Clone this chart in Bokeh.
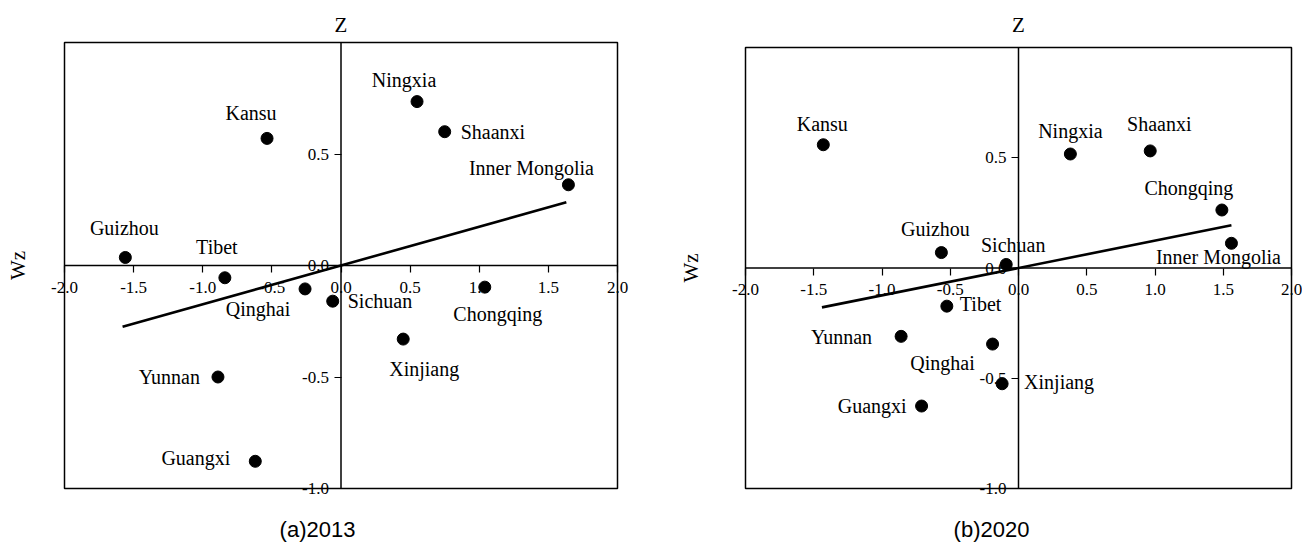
import math
from bokeh.plotting import figure
from bokeh.models import LinearAxis, FixedTicker, ColumnDataSource, Range1d, Label, PrintfTickFormatter
from bokeh.layouts import row
from bokeh.embed import file_html
from bokeh.resources import INLINE
from bokeh.core.properties import value

# ---------------- data ----------------
provinces_2013 = ["Guizhou", "Tibet", "Kansu", "Qinghai", "Sichuan", "Ningxia", "Shaanxi",
                  "Inner Mongolia", "Chongqing", "Xinjiang", "Yunnan", "Guangxi"]
z_2013 = [-1.56, -0.84, -0.535, -0.26, -0.06, 0.55, 0.75, 1.645, 1.04, 0.45, -0.89, -0.62]
wz_2013 = [0.036, -0.055, 0.57, -0.105, -0.16, 0.735, 0.60, 0.362, -0.097, -0.33, -0.50, -0.878]

provinces_2020 = ["Kansu", "Ningxia", "Shaanxi", "Chongqing", "Inner Mongolia", "Guizhou", "Sichuan",
                  "Tibet", "Yunnan", "Qinghai", "Xinjiang", "Guangxi"]
z_2020 = [-1.43, 0.38, 0.965, 1.49, 1.56, -0.565, -0.09, -0.525, -0.86, -0.19, -0.12, -0.71]
wz_2020 = [0.559, 0.517, 0.531, 0.263, 0.112, 0.07, 0.016, -0.173, -0.31, -0.345, -0.525, -0.626]

slope_2013 = 0.174
slope_2020 = 0.124
fit_x_2013 = [-1.58, 1.63]
fit_x_2020 = [-1.44, 1.56]

x_limits = [-2.0, 2.0]
y_limits = [-1.0, 1.0]
x_ticks = [-2.0, -1.5, -1.0, -0.5, 0.0, 0.5, 1.0, 1.5, 2.0]
y_ticks = [-1.0, -0.5, 0.0, 0.5]
x_title = "Z"
y_title = "Wz"
captions = ["(a)2013", "(b)2020"]

# ---------------- label placement (screen px: dx, dy(down), align) ----------------
label_pos_2013 = {
    "Guizhou": (-1, -29, "center"), "Tibet": (-8, -31, "center"), "Kansu": (-16, -25, "center"),
    "Qinghai": (-47, 20, "center"), "Sichuan": (15, 0, "left"), "Ningxia": (-13, -22, "center"),
    "Shaanxi": (16, 0, "left"), "Inner Mongolia": (-37, -17, "center"), "Chongqing": (13, 27, "center"),
    "Xinjiang": (21, 30, "center"), "Yunnan": (-18, 0, "right"), "Guangxi": (-25, -3, "right"),
}
label_pos_2020 = {
    "Kansu": (-1, -21, "center"), "Ningxia": (0, -23, "center"), "Shaanxi": (9, -27, "center"),
    "Chongqing": (-33, -22, "center"), "Inner Mongolia": (-13, 14, "center"), "Guizhou": (-6, -24, "center"),
    "Sichuan": (7, -19, "center"), "Tibet": (13, -2, "left"), "Yunnan": (-29, 1, "right"),
    "Qinghai": (-50, 19, "center"), "Xinjiang": (22, -2, "left"), "Guangxi": (-15, 0, "right"),
}

SERIF = "Liberation Serif"


def make_panel(names, zs, wzs, slope, fit_x, label_pos, caption,
               box_w, box_h, pad_left, pad_right, pad_top, pad_bottom, ytitle_dx, xtitle_dy, cap_dx):
    # the plotting frame is larger than the drawn box so that edge tick labels,
    # the axis titles and the caption are drawn without being cut off
    ux = box_w / (x_limits[1] - x_limits[0])
    uy = box_h / (y_limits[1] - y_limits[0])
    xr = Range1d(x_limits[0] - pad_left / ux, x_limits[1] + pad_right / ux)
    yr = Range1d(y_limits[0] - pad_bottom / uy, y_limits[1] + pad_top / uy)
    p = figure(frame_width=box_w + pad_left + pad_right, frame_height=box_h + pad_top + pad_bottom,
               x_range=xr, y_range=yr,
               x_axis_location=None, y_axis_location=None,
               toolbar_location=None, output_backend="svg",
               min_border=0)
    p.grid.visible = False
    p.outline_line_color = None
    p.background_fill_color = "white"
    p.border_fill_color = "white"

    # box and the two zero lines
    p.quad(left=[x_limits[0]], right=[x_limits[1]], bottom=[y_limits[0]], top=[y_limits[1]],
           fill_color=None, line_color="black", line_width=1.5)
    p.segment(x0=[x_limits[0], 0.0], y0=[0.0, y_limits[0]], x1=[x_limits[1], 0.0], y1=[0.0, y_limits[1]],
              line_color="black", line_width=1.5)

    xa = LinearAxis(fixed_location=0, ticker=FixedTicker(ticks=x_ticks),
                    formatter=PrintfTickFormatter(format="%.1f"))
    ya = LinearAxis(fixed_location=0, ticker=FixedTicker(ticks=y_ticks),
                    formatter=PrintfTickFormatter(format="%.1f"))
    for ax in (xa, ya):
        ax.axis_line_color = None
        ax.major_tick_line_color = "black"
        ax.major_tick_line_width = 1.2
        ax.major_tick_in = 0
        ax.major_tick_out = 7
        ax.minor_tick_line_color = None
        ax.major_label_text_font = SERIF
        ax.major_label_text_font_size = "17px"
        ax.major_label_text_color = "black"
    xa.major_label_standoff = 9
    ya.major_label_standoff = 5
    p.add_layout(xa, "below")
    p.add_layout(ya, "left")

    # axis titles and caption
    p.add_layout(Label(x=0.0, y=y_limits[1], y_offset=xtitle_dy, text=x_title,
                       text_align="center", text_baseline="middle", text_font=SERIF,
                       text_font_size="21px", text_color="black"))
    p.add_layout(Label(x=x_limits[0], y=0.0, x_offset=ytitle_dx, text=y_title, angle=math.pi / 2,
                       text_align="center", text_baseline="middle", text_font=SERIF,
                       text_font_size="21px", text_color="black"))
    p.add_layout(Label(x=x_limits[0], y=y_limits[0], x_offset=cap_dx, y_offset=-41, text=caption,
                       text_align="center", text_baseline="middle", text_font="Liberation Sans",
                       text_font_size="22px", text_color="black"))

    fit_y = [slope * x for x in fit_x]
    p.line(fit_x, fit_y, line_color="black", line_width=2.6)

    src = ColumnDataSource(dict(
        x=zs, y=wzs, name=names,
        dx=[label_pos[n][0] for n in names],
        dy=[label_pos[n][1] for n in names],
        align=[label_pos[n][2] for n in names],
    ))
    p.scatter("x", "y", source=src, size=12, fill_color="black", line_color="black")
    p.text(x="x", y="y", text="name", x_offset="dx", y_offset="dy", text_align="align",
           text_baseline="middle", source=src, text_font=value(SERIF),
           text_font_size="20px", text_color="black")
    return p


p1 = make_panel(provinces_2013, z_2013, wz_2013, slope_2013, fit_x_2013, label_pos_2013, captions[0],
                box_w=553, box_h=446, pad_left=64, pad_right=13, pad_top=42, pad_bottom=56,
                ytitle_dx=-47, xtitle_dy=18, cap_dx=253)
p2 = make_panel(provinces_2020, z_2020, wz_2020, slope_2020, fit_x_2020, label_pos_2020, captions[1],
                box_w=546, box_h=441, pad_left=115, pad_right=11, pad_top=47, pad_bottom=56,
                ytitle_dx=-55, xtitle_dy=23, cap_dx=246)

layout = row(p1, p2)
open("out.html", "w").write(file_html(layout, INLINE))
